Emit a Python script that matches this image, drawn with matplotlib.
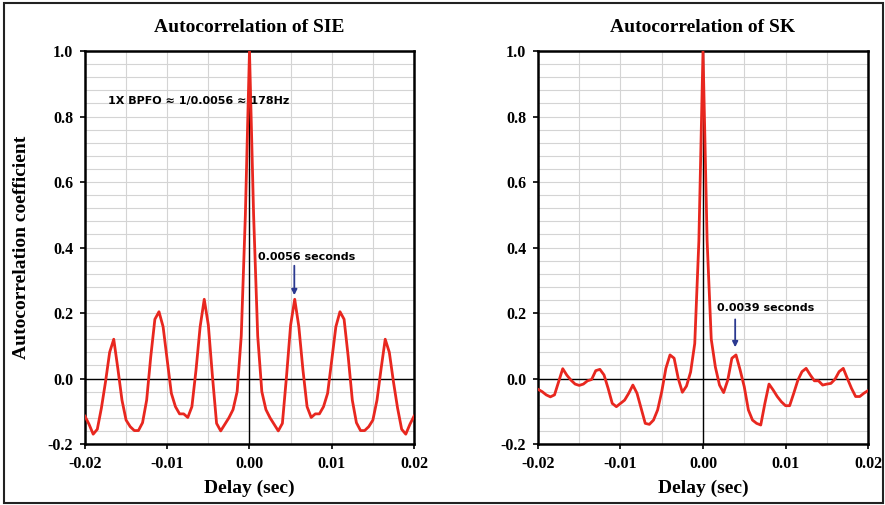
import numpy as np
import matplotlib
matplotlib.use("Agg")
import matplotlib.pyplot as plt
from matplotlib.patches import Rectangle

plt.rcParams['axes.unicode_minus'] = False

# ---- data (delay sampled every 0.0005 s from -0.02 to 0.02) ----
dt = 0.0005
lag_index = np.arange(-40, 41)
delay = lag_index * dt

sie_neg = [-0.115, -0.14, -0.17, -0.155, -0.09, -0.01, 0.08, 0.12, 0.03, -0.066,
           -0.127, -0.147, -0.159, -0.159, -0.135, -0.066, 0.067, 0.181, 0.204, 0.158,
           0.056, -0.045, -0.086, -0.108, -0.108, -0.119, -0.086, 0.026, 0.158, 0.242,
           0.163, 0.006, -0.137, -0.16, -0.14, -0.12, -0.095, -0.04, 0.13, 0.50]
sie_pos = [1.0, 0.50, 0.13, -0.04, -0.095, -0.12, -0.14, -0.16, -0.137, 0.006,
           0.163, 0.242, 0.158, 0.026, -0.086, -0.119, -0.108, -0.108, -0.086, -0.045,
           0.056, 0.158, 0.204, 0.181, 0.067, -0.066, -0.135, -0.159, -0.159, -0.147,
           -0.127, -0.066, 0.03, 0.12, 0.08, -0.01, -0.09, -0.155, -0.17, -0.14, -0.115]
sie = sie_neg + sie_pos

sk_neg = [-0.033, -0.040, -0.05, -0.056, -0.05, -0.01, 0.03, 0.01, -0.005, -0.017,
          -0.021, -0.017, -0.007, -0.003, 0.024, 0.028, 0.011, -0.03, -0.076, -0.086,
          -0.076, -0.066, -0.045, -0.02, -0.045, -0.091, -0.137, -0.14, -0.127, -0.096,
          -0.04, 0.031, 0.072, 0.062, 0.0, -0.042, -0.023, 0.02, 0.107, 0.42]
sk_pos = [1.0, 0.42, 0.12, 0.035, -0.02, -0.043, -0.005, 0.062, 0.072, 0.026,
          -0.025, -0.096, -0.127, -0.137, -0.142, -0.076, -0.017, -0.035, -0.055, -0.071,
          -0.083, -0.083, -0.045, -0.005, 0.021, 0.031, 0.011, -0.007, -0.007, -0.02,
          -0.017, -0.015, -0.002, 0.021, 0.031, 0.0, -0.03, -0.055, -0.055, -0.045, -0.037]
sk = sk_neg + sk_pos

titles = ["Autocorrelation of SIE", "Autocorrelation of SK"]
xticks = [-0.02, -0.01, 0.0, 0.01, 0.02]
xticklabels = ["-0.02", "-0.01", "0.00", "0.01", "0.02"]
yticks = [-0.2, 0.0, 0.2, 0.4, 0.6, 0.8, 1.0]
yticklabels = ["-0.2", "0.0", "0.2", "0.4", "0.6", "0.8", "1.0"]

RED = "#e8271f"
BLUE = "#2b3990"
SERIF = "Liberation Serif"

fig = plt.figure(figsize=(8.85, 5.05), dpi=100)
fig.patch.set_facecolor("white")

ax1 = fig.add_axes([0.096, 0.1208, 0.3718, 0.778])
ax2 = fig.add_axes([0.6079, 0.1208, 0.3729, 0.778])

for ax, series, title in [(ax1, sie, titles[0]), (ax2, sk, titles[1])]:
    ax.set_xlim(-0.02, 0.02)
    ax.set_ylim(-0.2, 1.0)
    ax.set_xticks(np.arange(-0.02, 0.0201, 0.005), minor=True)
    ax.set_yticks(np.arange(-0.2, 1.001, 0.04), minor=True)
    ax.grid(which="both", color="#d4d4d4", linewidth=0.8)
    ax.set_axisbelow(True)
    ax.axhline(0, color="black", linewidth=1.0, zorder=2)
    ax.axvline(0, color="black", linewidth=1.0, zorder=2)
    ax.plot(delay, series, color=RED, linewidth=2.0, zorder=3)
    ax.set_xticks(xticks)
    ax.set_xticklabels(xticklabels, fontfamily=SERIF, fontweight="bold", fontsize=11.5)
    ax.set_yticks(yticks)
    ax.set_yticklabels(yticklabels, fontfamily=SERIF, fontweight="bold", fontsize=11.5)
    ax.tick_params(which="major", direction="out", length=3.5, width=1.2, pad=5)
    ax.tick_params(which="minor", length=0)
    for s in ax.spines.values():
        s.set_linewidth(1.8)
        s.set_color("black")
    ax.set_title(title, fontfamily=SERIF, fontweight="bold", fontsize=14, pad=14)
    ax.set_xlabel("Delay (sec)", fontfamily=SERIF, fontweight="bold", fontsize=14, labelpad=6)

ax1.set_ylabel("Autocorrelation coefficient", fontfamily=SERIF, fontweight="bold",
               fontsize=14, labelpad=13)

# annotations
ax1.text(-0.0172, 0.849, "1X BPFO \u2248 1/0.0056 \u2248 178Hz", fontfamily="DejaVu Sans",
         fontweight="bold", fontsize=8, ha="left", va="center", zorder=5)
ax1.text(0.00103, 0.371, "0.0056 seconds", fontfamily="DejaVu Sans",
         fontweight="bold", fontsize=8, ha="left", va="center", zorder=5)
ax1.annotate("", xy=(0.00545, 0.246), xytext=(0.00545, 0.353),
             arrowprops=dict(arrowstyle="-|>", color=BLUE, lw=1.3, mutation_scale=8), zorder=5)

ax2.text(0.0017, 0.215, "0.0039 seconds", fontfamily="DejaVu Sans",
         fontweight="bold", fontsize=8, ha="left", va="center", zorder=5)
ax2.annotate("", xy=(0.0039, 0.087), xytext=(0.0039, 0.189),
             arrowprops=dict(arrowstyle="-|>", color=BLUE, lw=1.3, mutation_scale=8), zorder=5)

# outer frame
fig.patches.append(Rectangle((4 / 885, 2 / 505), 879 / 885, 500 / 505, transform=fig.transFigure,
                             fill=False, edgecolor="#222222", linewidth=1.5))

fig.savefig("out.png", dpi=100)
